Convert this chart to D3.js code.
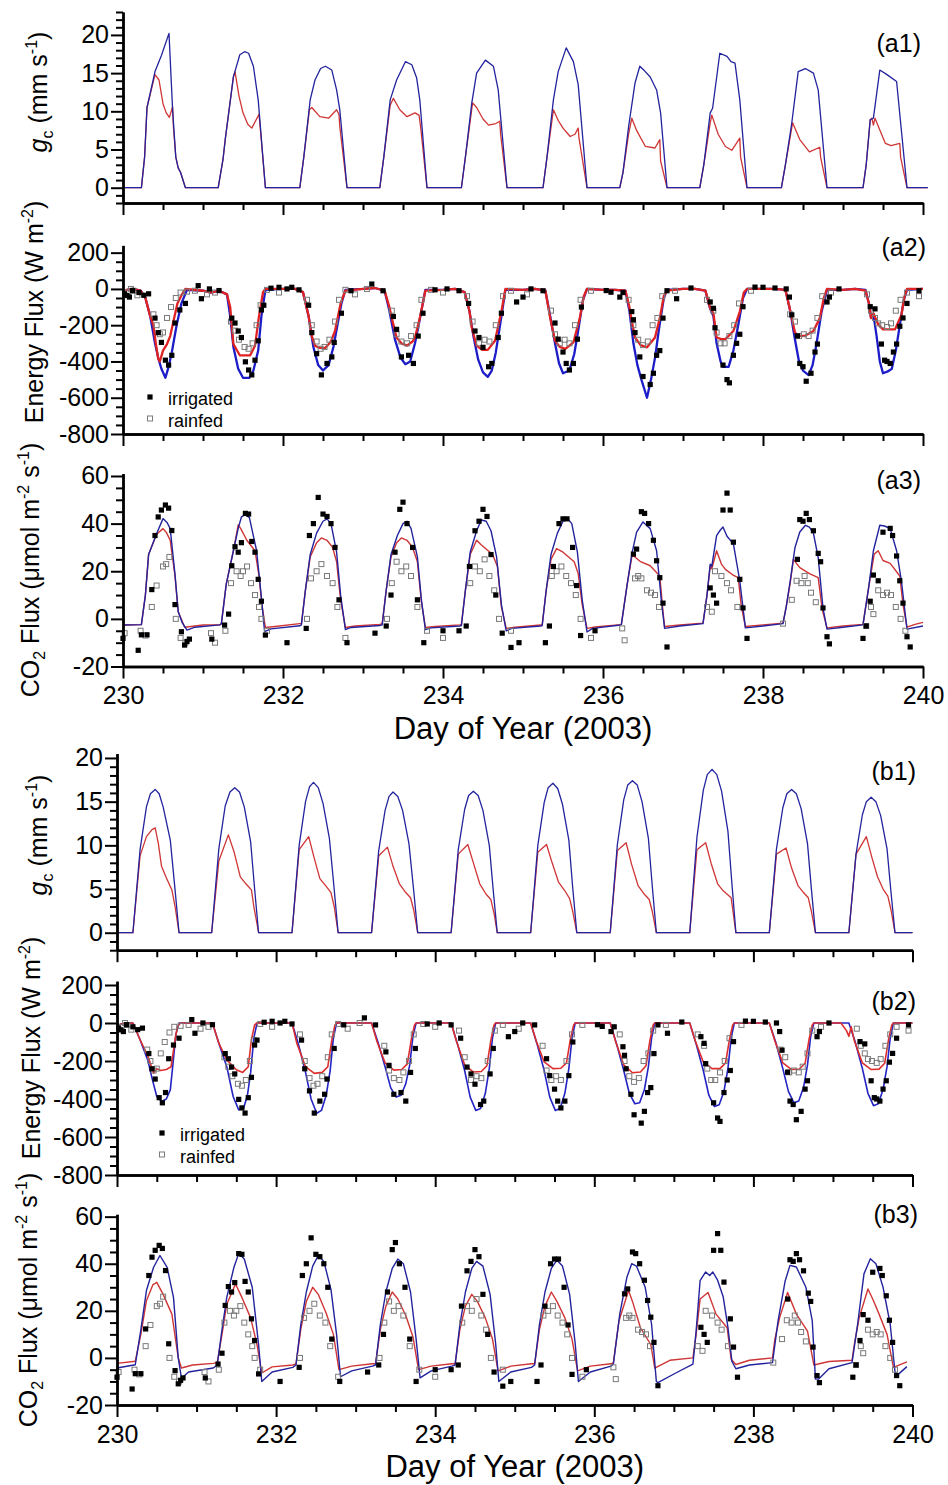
<!DOCTYPE html>
<html>
<head>
<meta charset="utf-8">
<script src="https://cdn.jsdelivr.net/npm/d3@7"></script>
<style>
body { margin: 0; background: #fff; }
svg text { font-family: Arial, "Liberation Sans", sans-serif; fill: #000; }
</style>
</head>
<body>
<script>
var svgWidth = 948;
var svgHeight = 1485;

// x ticks (day of year)
var xTicks = [230, 232, 234, 236, 238, 240];
var gcTicks = [0, 5, 10, 15, 20];
var energyTicks = [-800, -600, -400, -200, 0, 200];
var co2Ticks = [-20, 0, 20, 40, 60];

// ---- (a1) canopy conductance, [day, mm/s]
var gcIrrA = [
  [230.00,0],[230.23,0],[230.27,4],[230.30,10.5],[230.40,15.2],[230.48,17.3],[230.575,20.2],[230.62,10.2],[230.66,4],[230.69,2.6],[230.72,2.0],[230.78,0],
  [231.19,0],[231.25,3.7],[231.28,6.5],[231.38,14.5],[231.46,17.4],[231.52,17.8],[231.57,17.6],[231.63,15.9],[231.69,11.5],[231.78,0],
  [232.21,0],[232.26,4],[232.34,11.5],[232.40,14.1],[232.47,15.6],[232.53,15.9],[232.61,15.4],[232.67,12.8],[232.71,10.2],[232.80,0],
  [233.21,0],[233.26,4],[233.34,11.5],[233.42,14.1],[233.53,16.5],[233.61,16.1],[233.67,14.4],[233.71,11.5],[233.80,0],
  [234.23,0],[234.28,4],[234.36,11.1],[234.42,15],[234.53,16.7],[234.63,15.9],[234.69,12.8],[234.80,0],
  [235.25,0],[235.30,4],[235.38,11.5],[235.44,15.2],[235.54,18.3],[235.63,16.5],[235.69,13.5],[235.80,0],
  [236.21,0],[236.25,2],[236.32,8],[236.40,13.7],[236.46,15.9],[236.52,15.3],[236.59,14.5],[236.67,12.8],[236.72,9.8],[236.80,0],
  [237.21,0],[237.26,3],[237.34,9.8],[237.37,10.4],[237.46,17.6],[237.55,17.2],[237.60,16.5],[237.65,16.3],[237.71,11.5],[237.80,0],
  [238.23,0],[238.28,3],[238.36,8.5],[238.44,15.2],[238.53,15.6],[238.63,15.0],[238.69,12.8],[238.80,0],
  [239.25,0],[239.29,3],[239.34,8.9],[239.38,9.1],[239.46,15.4],[239.55,14.8],[239.67,13.9],[239.80,0],[240.06,0]
];
var gcRainA = [
  [230.00,0],[230.23,0],[230.27,4],[230.30,10.5],[230.40,14.8],[230.45,14.1],[230.50,11],[230.54,9.8],[230.58,9.2],[230.62,10.6],[230.63,8],[230.66,4],[230.69,2.6],[230.72,2.0],[230.78,0],
  [231.19,0],[231.25,3.7],[231.28,6.5],[231.38,14.5],[231.40,15.2],[231.45,12],[231.50,9.8],[231.56,8.3],[231.61,7.8],[231.70,9.6],[231.71,8.5],[231.78,0],
  [232.21,0],[232.26,4],[232.33,10.2],[232.36,10.5],[232.46,9.3],[232.57,9.1],[232.67,10.2],[232.70,9.6],[232.71,8],[232.80,0],
  [233.21,0],[233.26,4],[233.34,10.8],[233.38,11.7],[233.46,10.2],[233.55,9.3],[233.65,9.8],[233.70,9.5],[233.72,8],[233.80,0],
  [234.23,0],[234.28,4],[234.37,11.1],[234.42,10.5],[234.50,9],[234.57,8.2],[234.66,8.4],[234.71,8.7],[234.72,7],[234.80,0],
  [235.25,0],[235.30,4],[235.38,10.2],[235.44,8.8],[235.50,7.8],[235.59,6.7],[235.65,7],[235.69,7.8],[235.70,6.5],[235.80,0],
  [236.21,0],[236.25,2],[236.32,7],[236.36,9.1],[236.42,7.5],[236.53,5.4],[236.65,5.2],[236.71,6.3],[236.72,3.5],[236.80,0],
  [237.21,0],[237.26,3],[237.34,8.5],[237.36,9.5],[237.44,7],[237.53,5.4],[237.61,4.9],[237.71,6.5],[237.72,4],[237.80,0],
  [238.23,0],[238.28,3],[238.37,8.5],[238.46,6.3],[238.58,4.7],[238.71,5.3],[238.72,4],[238.80,0],
  [239.25,0],[239.29,3],[239.34,8.9],[239.36,9.1],[239.38,8.2],[239.40,9.1],[239.53,5.8],[239.60,5.5],[239.71,5.8],[239.72,4],[239.80,0],[240.06,0]
];

// ---- (b1) canopy conductance
var gcIrrB = [
  [230.00,0],[230.20,0],[230.29,9.5],[230.37,14.4],[230.42,15.9],[230.48,16.4],[230.53,15.9],[230.58,14.4],[230.67,10.6],[230.73,4.9],[230.78,0],
  [231.19,0],[231.28,9.6],[231.36,14.5],[231.42,16.1],[231.48,16.6],[231.54,16.1],[231.60,14.4],[231.68,10.4],[231.73,5],[231.78,0],
  [232.20,0],[232.29,10],[232.37,15],[232.42,16.7],[232.47,17.2],[232.53,16.6],[232.59,14.8],[232.67,10.8],[232.73,5],[232.78,0],
  [233.20,0],[233.29,9.4],[233.37,14],[233.42,15.6],[233.47,16.1],[233.53,15.6],[233.59,14],[233.67,10.2],[233.73,4.8],[233.78,0],
  [234.20,0],[234.29,9.5],[234.37,14.1],[234.42,15.7],[234.48,16.2],[234.54,15.7],[234.60,14],[234.68,10],[234.73,4.8],[234.78,0],
  [235.20,0],[235.29,10],[235.37,14.9],[235.42,16.6],[235.48,17.1],[235.54,16.5],[235.60,14.7],[235.68,10.6],[235.73,5],[235.78,0],
  [236.20,0],[236.29,10.1],[236.37,15.2],[236.42,16.9],[236.48,17.4],[236.54,16.9],[236.60,15],[236.68,10.8],[236.73,5.2],[236.78,0],
  [237.20,0],[237.29,10.9],[237.37,16.3],[237.42,18.1],[237.48,18.7],[237.54,18.1],[237.60,16.2],[237.68,11.6],[237.73,5.6],[237.78,0],
  [238.20,0],[238.29,9.6],[238.37,14.3],[238.42,15.9],[238.48,16.4],[238.54,15.9],[238.60,14.2],[238.68,10.2],[238.73,4.9],[238.78,0],
  [239.20,0],[239.29,9],[239.37,13.5],[239.42,15],[239.48,15.5],[239.54,15],[239.60,13.4],[239.68,9.6],[239.73,4.6],[239.78,0],[240.00,0]
];
var gcRainB = [
  [230.00,0],[230.20,0],[230.29,8.8],[230.37,11.0],[230.44,11.8],[230.48,12.0],[230.52,10.2],[230.56,7.6],[230.62,6.3],[230.69,4.9],[230.73,3.0],[230.78,0],
  [231.19,0],[231.28,8.2],[231.40,11.2],[231.47,9.3],[231.55,6.4],[231.62,5.6],[231.69,4.9],[231.72,3],[231.78,0],
  [232.20,0],[232.29,9.5],[232.41,11.0],[232.48,8.5],[232.55,6.2],[232.63,5.3],[232.69,4.6],[232.73,3],[232.78,0],
  [233.20,0],[233.29,8.8],[233.40,9.8],[233.47,7.6],[233.55,5.6],[233.63,4.6],[233.69,4.0],[233.73,2.6],[233.78,0],
  [234.20,0],[234.29,9],[234.41,10.1],[234.48,8],[234.56,5.6],[234.64,4.4],[234.70,3.8],[234.74,2.2],[234.78,0],
  [235.20,0],[235.29,9.2],[235.40,10.1],[235.47,8],[235.55,5.8],[235.63,4.8],[235.69,3.9],[235.73,2.4],[235.78,0],
  [236.20,0],[236.29,9.4],[236.40,10.3],[236.47,7.8],[236.55,5.4],[236.63,4.4],[236.69,3.8],[236.73,2.4],[236.78,0],
  [237.20,0],[237.29,9.5],[237.40,10.3],[237.47,7.9],[237.55,5.6],[237.62,4.8],[237.67,4.4],[237.72,4.0],[237.78,0],
  [238.20,0],[238.29,9],[238.41,9.7],[238.48,7.4],[238.56,5.4],[238.63,4.6],[238.69,4.0],[238.73,2.4],[238.78,0],
  [239.20,0],[239.29,9],[239.42,11.0],[239.49,8.6],[239.56,6.4],[239.63,5],[239.69,4.2],[239.73,2.6],[239.78,0],[240.00,0]
];

// ---- (a2) energy flux, W m-2
var energyIrrA = [
  [230.00,-20],[230.05,-5],[230.12,0],[230.22,-10],[230.28,-50],[230.34,-150],[230.40,-300],[230.44,-380],[230.48,-440],[230.53,-490],[230.57,-430],[230.61,-350],[230.67,-200],[230.73,-80],[230.80,-5],
  [231.00,-10],[231.10,-20],[231.20,-10],[231.30,-30],[231.34,-150],[231.38,-320],[231.44,-440],[231.50,-490],[231.58,-490],[231.63,-450],[231.69,-340],[231.73,-150],[231.78,-5],
  [232.00,0],[232.15,0],[232.25,-18],[232.32,-150],[232.38,-320],[232.44,-420],[232.50,-450],[232.57,-420],[232.63,-320],[232.68,-200],[232.73,-80],[232.78,-5],
  [233.00,0],[233.15,5],[233.27,-10],[233.33,-120],[233.40,-280],[233.47,-380],[233.53,-415],[233.59,-400],[233.65,-300],[233.70,-190],[233.78,-5],
  [234.00,-5],[234.15,0],[234.27,-18],[234.33,-120],[234.38,-260],[234.44,-390],[234.50,-460],[234.56,-485],[234.61,-450],[234.66,-350],[234.72,-180],[234.78,-5],
  [235.00,-5],[235.15,0],[235.28,-10],[235.34,-150],[235.40,-300],[235.45,-410],[235.50,-465],[235.58,-450],[235.64,-360],[235.69,-230],[235.75,-60],[235.80,0],
  [236.00,-5],[236.15,-5],[236.28,-10],[236.33,-120],[236.38,-300],[236.43,-420],[236.48,-500],[236.55,-600],[236.60,-500],[236.65,-380],[236.70,-220],[236.76,-50],[236.80,-5],
  [237.00,0],[237.15,0],[237.28,-10],[237.34,-110],[237.38,-150],[237.42,-300],[237.47,-400],[237.50,-430],[237.57,-430],[237.63,-340],[237.69,-200],[237.75,-50],[237.80,0],
  [238.00,0],[238.15,0],[238.28,-5],[238.34,-120],[238.40,-280],[238.45,-400],[238.50,-450],[238.57,-475],[238.62,-420],[238.67,-300],[238.73,-130],[238.80,-5],
  [239.00,-5],[239.15,0],[239.28,-5],[239.33,-90],[239.35,-160],[239.38,-140],[239.42,-260],[239.46,-400],[239.50,-465],[239.56,-455],[239.61,-440],[239.66,-340],[239.71,-200],[239.76,-60],[239.80,-5],[240.00,0]
];
var energyRainA = [
  [230.00,-20],[230.05,-5],[230.12,0],[230.22,-10],[230.28,-50],[230.34,-150],[230.38,-200],[230.41,-300],[230.44,-384],[230.46,-400],[230.50,-340],[230.55,-304],[230.59,-260],[230.63,-179],[230.68,-80],[230.73,-36],[230.78,0],
  [231.00,-10],[231.10,-20],[231.20,-10],[231.30,-30],[231.34,-100],[231.38,-304],[231.46,-366],[231.59,-366],[231.65,-313],[231.70,-150],[231.75,-18],[231.78,0],
  [232.00,0],[232.15,0],[232.25,-18],[232.32,-150],[232.36,-260],[232.40,-313],[232.46,-325],[232.53,-325],[232.60,-290],[232.65,-232],[232.72,-80],[232.78,-9],
  [233.00,0],[233.15,5],[233.27,-10],[233.33,-100],[233.36,-161],[233.42,-268],[233.48,-300],[233.55,-313],[233.62,-290],[233.65,-268],[233.71,-161],[233.78,-9],
  [234.00,-5],[234.15,0],[234.27,-18],[234.33,-120],[234.36,-214],[234.42,-313],[234.49,-336],[234.56,-336],[234.65,-286],[234.73,-125],[234.78,0],
  [235.00,-5],[235.15,0],[235.28,-10],[235.34,-161],[235.40,-286],[235.46,-320],[235.53,-331],[235.63,-295],[235.71,-161],[235.76,-40],[235.80,0],
  [236.00,-5],[236.15,-5],[236.28,-9],[236.33,-100],[236.36,-179],[236.40,-268],[236.47,-310],[236.55,-322],[236.65,-268],[236.71,-161],[236.76,-40],[236.80,-9],
  [237.00,0],[237.15,0],[237.28,-9],[237.34,-107],[237.38,-134],[237.42,-268],[237.48,-277],[237.53,-277],[237.63,-232],[237.71,-125],[237.76,-20],[237.80,0],
  [238.00,0],[238.15,0],[238.28,-5],[238.33,-100],[238.36,-161],[238.40,-241],[238.45,-259],[238.52,-259],[238.63,-232],[238.71,-161],[238.76,-50],[238.80,0],
  [239.00,-5],[239.15,0],[239.28,-9],[239.33,-90],[239.35,-161],[239.38,-134],[239.44,-196],[239.50,-223],[239.65,-223],[239.73,-143],[239.77,-40],[239.80,0],[240.00,0]
];

// ---- (b2) energy flux
var energyIrrB = [
  [230.00,-20],[230.05,-5],[230.12,0],[230.20,0],[230.29,-88],[230.39,-200],[230.44,-290],[230.50,-387],[230.56,-413],[230.62,-400],[230.67,-352],[230.70,-230],[230.74,-60],[230.78,0],
  [231.20,0],[231.28,-106],[231.38,-230],[231.46,-387],[231.53,-457],[231.59,-450],[231.64,-380],[231.68,-260],[231.72,-80],[231.76,0],
  [232.20,0],[232.28,-110],[232.37,-260],[232.44,-400],[232.51,-475],[232.57,-460],[232.63,-380],[232.68,-250],[232.72,-80],[232.76,0],
  [233.20,0],[233.28,-100],[233.37,-230],[233.44,-340],[233.51,-390],[233.57,-380],[233.63,-320],[233.68,-220],[233.72,-70],[233.76,0],
  [234.20,0],[234.28,-110],[234.37,-250],[234.44,-390],[234.51,-460],[234.57,-450],[234.63,-370],[234.68,-240],[234.72,-80],[234.76,0],
  [235.20,0],[235.28,-110],[235.37,-250],[235.44,-390],[235.51,-460],[235.57,-450],[235.63,-370],[235.68,-240],[235.72,-80],[235.76,0],
  [236.20,0],[236.28,-110],[236.37,-250],[236.44,-370],[236.51,-425],[236.57,-420],[236.63,-350],[236.68,-230],[236.72,-80],[236.76,0],
  [237.20,0],[237.28,-110],[237.37,-250],[237.44,-380],[237.51,-440],[237.57,-430],[237.63,-360],[237.68,-240],[237.72,-80],[237.76,0],
  [238.20,0],[238.28,-100],[238.37,-240],[238.44,-360],[238.51,-420],[238.57,-410],[238.63,-340],[238.68,-220],[238.72,-70],[238.76,0],
  [239.20,0],[239.28,-100],[239.37,-240],[239.44,-370],[239.51,-435],[239.57,-425],[239.63,-350],[239.68,-230],[239.72,-80],[239.76,0],[240.00,0]
];
var energyRainB = [
  [230.00,-20],[230.05,-5],[230.12,0],[230.20,0],[230.29,-88],[230.39,-176],[230.46,-264],[230.50,-240],[230.55,-250],[230.62,-245],[230.68,-230],[230.73,-88],[230.76,-18],[230.80,0],
  [231.20,0],[231.28,-106],[231.38,-194],[231.50,-246],[231.58,-260],[231.65,-230],[231.69,-88],[231.73,-10],[231.76,0],
  [232.20,0],[232.26,-106],[232.37,-230],[232.48,-265],[232.58,-260],[232.65,-230],[232.70,-90],[232.74,-10],[232.76,0],
  [233.20,0],[233.27,-100],[233.37,-210],[233.48,-248],[233.58,-245],[233.65,-215],[233.70,-85],[233.74,-10],[233.76,0],
  [234.20,0],[234.27,-100],[234.37,-220],[234.48,-258],[234.58,-255],[234.65,-225],[234.70,-90],[234.74,-10],[234.76,0],
  [235.20,0],[235.27,-95],[235.37,-205],[235.48,-240],[235.58,-238],[235.65,-210],[235.70,-85],[235.74,-10],[235.76,0],
  [236.20,0],[236.27,-100],[236.37,-220],[236.48,-262],[236.58,-258],[236.65,-225],[236.70,-90],[236.74,-10],[236.76,0],
  [237.20,0],[237.27,-95],[237.37,-205],[237.48,-240],[237.58,-240],[237.65,-210],[237.70,-85],[237.74,-10],[237.76,0],
  [238.20,0],[238.27,-95],[238.37,-210],[238.48,-245],[238.58,-242],[238.65,-212],[238.70,-85],[238.74,-10],[238.76,0],
  [239.10,0],[239.17,-40],[239.20,-70],[239.23,-20],[239.27,-95],[239.37,-210],[239.48,-245],[239.58,-243],[239.65,-212],[239.70,-85],[239.74,-10],[239.76,0],[240.00,0]
];

// ---- (a3) CO2 flux, umol m-2 s-1
var co2IrrA = [
  [230.00,-2.6],[230.23,-2.4],[230.28,10],[230.32,27],[230.42,35.7],[230.50,42.1],[230.55,40.5],[230.59,37.9],[230.65,18.7],[230.69,3.1],[230.74,-1.6],[230.80,-4.7],[230.90,-3.5],[231.21,-2.5],
  [231.23,-2],[231.29,14.5],[231.38,28.6],[231.44,38],[231.48,42.8],[231.53,43.8],[231.58,42.5],[231.67,28.6],[231.73,9],[231.77,-5.4],[231.85,-4.2],[232.21,-2.9],
  [232.23,-2.5],[232.28,12],[232.34,27],[232.42,36],[232.50,41],[232.55,42],[232.60,40],[232.67,28],[232.72,10],[232.78,-4.5],[232.85,-3.6],[233.21,-2.8],
  [233.24,-2.5],[233.29,12],[233.35,27],[233.43,35],[233.50,40],[233.55,41],[233.60,38],[233.68,26],[233.73,8],[233.78,-4.5],[233.85,-3.8],[234.21,-3],
  [234.23,-2.8],[234.28,12],[234.34,28],[234.42,37],[234.48,41.5],[234.54,41],[234.60,37],[234.67,26],[234.73,6],[234.79,-5],[234.86,-4],[235.22,-3],
  [235.24,-2.8],[235.29,12],[235.35,27],[235.43,36],[235.50,41],[235.56,42],[235.61,40],[235.68,28],[235.74,8],[235.80,-5.5],[235.87,-4],[236.22,-2.6],
  [236.23,-2.3],[236.30,14],[236.36,27.2],[236.42,36.4],[236.50,40.7],[236.59,37.9],[236.67,28.6],[236.73,7.4],[236.77,-4],[236.96,-3],[237.25,-2],
  [237.30,10],[237.34,23],[237.36,22],[237.42,35],[237.46,37],[237.50,38.6],[237.52,37],[237.55,34.7],[237.63,31.5],[237.71,15.9],[237.78,-3.8],[238.00,-3],[238.25,-2],
  [238.29,5],[238.34,15.9],[238.40,30],[238.46,36.5],[238.53,39.3],[238.58,38.5],[238.63,36],[238.69,25.7],[238.75,4.5],[238.80,-4.3],[239.00,-3.5],[239.25,-2.5],
  [239.32,13],[239.38,28.6],[239.46,39.3],[239.52,39],[239.59,37.9],[239.67,28.6],[239.73,15.9],[239.80,-4.3],[240.00,-3]
];
var co2RainA = [
  [230.00,-2.6],[230.23,-2.4],[230.28,10],[230.32,27],[230.42,35.5],[230.50,37.9],[230.54,36.4],[230.59,33],[230.65,18],[230.69,3],[230.74,-1],[230.77,-3.5],[230.85,-3.2],[231.00,-2.6],[231.21,-2.5],
  [231.23,-2],[231.29,14.5],[231.38,28.6],[231.44,39.5],[231.47,38],[231.55,32.9],[231.65,28.6],[231.70,18],[231.74,5],[231.78,-3.6],[231.90,-3.2],[232.21,-2],
  [232.23,-2],[232.28,12],[232.34,26],[232.42,32],[232.48,34],[232.55,33],[232.62,30],[232.67,24],[232.72,8],[232.78,-3.6],[232.90,-3],[233.21,-2.3],
  [233.24,-2],[233.29,12],[233.35,26],[233.42,32],[233.48,34],[233.55,33],[233.62,30],[233.68,24],[233.73,7],[233.78,-3.6],[233.90,-3.2],[234.21,-2.5],
  [234.23,-2.3],[234.28,12],[234.34,27],[234.42,33],[234.48,31],[234.55,29],[234.62,27],[234.68,22],[234.73,5],[234.79,-4],[234.90,-3.5],[235.22,-2.6],
  [235.24,-2.4],[235.29,12],[235.35,25],[235.42,29.5],[235.50,28],[235.57,26],[235.64,24],[235.69,19],[235.74,6],[235.80,-4],[235.90,-3.4],[236.22,-2.4],
  [236.23,-2.2],[236.30,14],[236.36,26],[236.38,26.5],[236.47,24],[236.59,22.3],[236.71,18],[236.75,3],[236.77,-3.2],[236.96,-2.6],[237.25,-1.8],
  [237.30,10],[237.34,22],[237.36,21],[237.42,28.6],[237.48,23],[237.53,20.8],[237.62,18.5],[237.69,17.3],[237.73,5],[237.78,-3.2],[238.00,-2.5],[238.25,-1.8],
  [238.29,5],[238.34,15],[238.38,25],[238.46,21.5],[238.58,19],[238.69,17.3],[238.74,4],[238.80,-3.8],[239.00,-3],[239.25,-2.3],
  [239.32,13],[239.39,27.2],[239.44,28.6],[239.50,24.5],[239.59,23.3],[239.71,18],[239.75,6],[239.80,-3.5],[239.90,-2.3],[240.00,-1.5]
];

// ---- (b3) CO2 flux
var co2IrrB = [
  [230.00,-4.3],[230.23,-2.9],[230.30,12],[230.37,28.6],[230.46,38.5],[230.54,43.5],[230.63,38.5],[230.71,25.7],[230.77,0],[230.81,-8.6],[230.90,-6],[231.21,-4.3],
  [231.26,-3],[231.32,12],[231.38,25.7],[231.47,38.5],[231.53,44.3],[231.60,42],[231.70,30],[231.78,5.6],[231.82,-10],[231.95,-6],[232.21,-4],
  [232.25,-3],[232.31,14],[232.38,28],[232.46,39],[232.53,43.5],[232.60,41],[232.69,29],[232.76,10],[232.81,-8],[232.95,-5.5],[233.21,-3.5],
  [233.25,-3],[233.31,14],[233.38,28],[233.46,38],[233.53,42],[233.60,40],[233.69,28],[233.76,8],[233.81,-8.5],[233.95,-5.5],[234.21,-3.5],
  [234.25,-3],[234.31,14],[234.38,28],[234.46,38],[234.52,41],[234.60,39],[234.69,27],[234.76,6],[234.80,-10],[234.95,-6],[235.21,-4],
  [235.25,-3],[235.31,14],[235.38,28],[235.46,38],[235.53,41.5],[235.60,39],[235.69,27],[235.76,6],[235.80,-10],[235.95,-6],[236.21,-3.5],
  [236.24,-2.6],[236.32,18.6],[236.41,34.3],[236.47,40],[236.53,39],[236.64,30],[236.72,14.3],[236.78,-10],[236.80,-10.5],[237.03,-6.3],[237.24,-2.6],
  [237.28,11.4],[237.33,32.8],[237.40,36.5],[237.45,35],[237.49,36.5],[237.55,33],[237.62,26],[237.68,13],[237.73,-1.5],[237.78,-4.6],[237.95,-3],[238.24,-2],
  [238.31,15.7],[238.40,32.8],[238.46,39.3],[238.54,38.6],[238.66,30],[238.74,15.7],[238.78,-9],[238.82,-9],[238.95,-4.6],[239.24,-2],
  [239.31,14.3],[239.39,35.7],[239.47,42.1],[239.54,40],[239.63,30],[239.72,14.3],[239.78,-6],[239.82,-7],[239.93,-3.7]
];
var co2RainB = [
  [230.00,-2.3],[230.23,-1.4],[230.30,10],[230.37,24.3],[230.45,31],[230.50,32.1],[230.58,27],[230.69,18.6],[230.77,0],[230.81,-4.3],[230.95,-3],[231.21,-2.3],
  [231.26,-2],[231.32,10],[231.38,22.8],[231.49,31.4],[231.57,25.7],[231.68,17],[231.76,5.6],[231.82,-6.4],[231.95,-3.8],[232.21,-3],
  [232.25,-2.5],[232.31,12],[232.38,24],[232.46,30],[232.53,27],[232.63,19],[232.72,10],[232.79,-5],[232.95,-3.5],[233.21,-2.5],
  [233.25,-2.5],[233.31,12],[233.38,22],[233.46,28],[233.53,25],[233.63,18],[233.72,9],[233.79,-5],[233.95,-3.5],[234.21,-2.5],
  [234.25,-2.5],[234.31,12],[234.38,22],[234.46,27],[234.53,24],[234.63,17],[234.72,8],[234.79,-5.5],[234.95,-3.5],[235.21,-2.5],
  [235.25,-2.5],[235.31,12],[235.38,22],[235.46,28],[235.53,24],[235.63,17],[235.72,8],[235.79,-5.5],[235.95,-3.5],[236.21,-2.5],
  [236.24,-2],[236.31,15.7],[236.43,28.6],[236.48,24],[236.58,12.8],[236.71,5.7],[236.76,-4.3],[236.95,-1],[237.24,0],
  [237.28,10],[237.33,25],[237.43,27.8],[237.53,18.6],[237.67,12.8],[237.72,-0.5],[237.78,-2.8],[237.95,-1],[238.24,0],
  [238.27,8],[238.33,17.1],[238.43,27.8],[238.54,18.6],[238.68,11.4],[238.76,-3],[238.95,-1.5],[239.24,-1],
  [239.27,6],[239.33,17.1],[239.44,29.3],[239.50,25],[239.58,18.6],[239.68,10],[239.76,-4],[239.93,-1.7]
];

// ---- measured points (same in a and b panels)
var energyIrrObs = [
  [230.02,-27],[230.05,-36],[230.08,-45],[230.12,-9],[230.20,-20],[230.26,-35],[230.32,-27],[230.40,-161],[230.44,-241],[230.48,-295],[230.53,-393],[230.57,-420],[230.61,-366],[230.65,-188],[230.71,-116],[230.78,-80],[230.94,18],[230.98,-54],[231.08,0],[231.20,-9],
  [231.36,-161],[231.40,-188],[231.44,-232],[231.48,-268],[231.53,-402],[231.57,-447],[231.61,-474],[231.65,-393],[231.69,-286],[231.73,-116],[231.76,-90],[231.85,4],[231.95,9],[232.05,0],
  [232.11,9],[232.20,-5],[232.32,-90],[232.36,-241],[232.42,-357],[232.48,-474],[232.55,-411],[232.61,-375],[232.64,-295],[232.73,-134],[232.85,-10],[233.11,27],
  [233.25,-10],[233.38,-152],[233.42,-223],[233.48,-375],[233.57,-366],[233.63,-411],[233.69,-260],[233.75,-134],[233.90,-5],[234.05,0],
  [234.20,-10],[234.32,-80],[234.40,-232],[234.45,-268],[234.50,-322],[234.57,-429],[234.61,-411],[234.69,-268],[234.73,-134],[234.92,-72],[235.00,-45],
  [235.10,0],[235.25,-10],[235.40,-188],[235.44,-277],[235.50,-348],[235.54,-411],[235.58,-447],[235.63,-411],[235.68,-277],[235.73,-100],
  [236.04,-9],[236.10,-18],[236.21,-45],[236.25,-20],[236.36,-125],[236.38,-170],[236.40,-241],[236.46,-375],[236.50,-483],[236.59,-527],[236.63,-465],[236.67,-366],[236.71,-340],[236.75,-161],[236.80,-10],[236.92,-54],
  [237.10,5],[237.34,-72],[237.38,-107],[237.40,-214],[237.50,-420],[237.55,-500],[237.58,-518],[237.63,-366],[237.67,-300],[237.71,-250],[237.75,-98],[237.90,10],
  [238.00,9],[238.15,5],[238.29,0],[238.33,-45],[238.36,-143],[238.43,-259],[238.46,-411],[238.50,-429],[238.54,-509],[238.60,-465],[238.65,-348],[238.68,-304],[238.80,-72],[238.83,-45],[238.95,0],
  [239.34,-98],[239.40,-110],[239.48,-304],[239.52,-393],[239.55,-400],[239.59,-411],[239.63,-348],[239.67,-304],[239.71,-206],[239.75,-160],[239.80,-80],[239.95,-10]
];
var energyRainObs = [
  [230.06,-20],[230.10,0],[230.13,-10],[230.18,-35],[230.38,-140],[230.42,-200],[230.46,-250],[230.50,-240],[230.55,-160],[230.60,-100],[230.66,-50],[230.72,-20],[230.80,-15],[230.90,-10],[231.05,-30],[231.15,-20],
  [231.35,-180],[231.40,-230],[231.45,-280],[231.52,-320],[231.57,-330],[231.62,-300],[231.67,-200],[231.72,-90],[231.80,-5],[231.95,-20],
  [232.30,-60],[232.36,-200],[232.42,-290],[232.47,-330],[232.52,-320],[232.58,-280],[232.65,-180],[232.70,-60],[232.78,-5],[232.90,-30],
  [233.05,0],[233.36,-120],[233.42,-250],[233.48,-290],[233.55,-300],[233.60,-260],[233.67,-200],[233.73,-60],[233.85,-5],[234.00,-20],
  [234.30,-40],[234.37,-180],[234.45,-300],[234.52,-280],[234.58,-290],[234.66,-200],[234.75,-40],[234.85,-10],[235.05,-30],
  [235.35,-120],[235.40,-250],[235.46,-300],[235.52,-280],[235.58,-300],[235.65,-200],[235.72,-60],[235.85,-10],
  [236.32,-60],[236.38,-200],[236.44,-280],[236.50,-310],[236.56,-290],[236.62,-200],[236.68,-160],[236.74,-40],[236.90,-10],
  [237.30,-60],[237.38,-120],[237.42,-240],[237.47,-300],[237.52,-300],[237.58,-260],[237.64,-200],[237.70,-80],[237.85,-10],
  [238.34,-140],[238.40,-180],[238.45,-260],[238.51,-250],[238.57,-260],[238.62,-230],[238.68,-160],[238.74,-40],[238.85,-20],
  [239.30,-30],[239.35,-120],[239.40,-160],[239.44,-190],[239.49,-200],[239.55,-210],[239.60,-190],[239.66,-120],[239.72,-60],[239.80,-20],[239.95,-40]
];
var co2IrrObs = [
  [230.00,-8.2],[230.19,-13.2],[230.23,-6.7],[230.30,-6.7],[230.36,12.3],[230.40,35],[230.44,42.8],[230.48,45.7],[230.53,47.8],[230.57,46.5],[230.61,37.1],[230.65,6],[230.73,-5.4],[230.77,-11],[230.80,-9.5],[230.83,-8.5],[231.11,-8.5],
  [231.27,-2.6],[231.32,2],[231.36,22.3],[231.40,30.3],[231.44,28],[231.48,32],[231.53,44.3],[231.57,44],[231.61,32.5],[231.65,28],[231.69,16.6],[231.73,7.4],[231.78,-6.8],
  [232.05,-10],[232.29,-4],[232.33,35],[232.38,40],[232.44,51],[232.50,44],[232.55,43],[232.60,40],[232.65,30],[232.70,8],[232.80,-10],
  [233.15,-6],[233.29,-3],[233.35,10],[233.40,28],[233.46,46],[233.50,49],[233.55,40],[233.62,30],[233.68,8],[233.76,-10],
  [234.00,-5],[234.20,-5],[234.29,-3],[234.33,22],[234.40,37],[234.45,41],[234.50,46],[234.55,43],[234.60,27],[234.66,10],[234.74,-6],[234.85,-12],
  [234.95,-10],[235.28,-10],[235.33,-3],[235.38,22],[235.45,40],[235.50,42],[235.55,42],[235.62,30],[235.67,14],[235.72,-7],[235.90,-5],
  [236.38,27.2],[236.42,29.3],[236.48,45],[236.52,44.3],[236.57,40],[236.63,33],[236.67,24.4],[236.71,17.3],[236.75,6.6],[236.80,-11.8],
  [237.34,13],[237.38,10],[237.42,6.6],[237.50,45.7],[237.55,52.8],[237.59,45.7],[237.63,32.2],[237.71,16.6],[237.75,4.6],[237.80,-8.2],
  [238.43,25],[238.46,41.7],[238.50,41],[238.54,44.3],[238.58,41.7],[238.63,37],[238.69,27.5],[238.72,24],[238.75,4.6],[238.80,-7.5],[238.83,-10.5],
  [239.25,-8.2],[239.29,-3],[239.34,7.4],[239.38,18.4],[239.44,16],[239.50,36.4],[239.59,38],[239.62,35],[239.67,26.4],[239.71,16],[239.75,6.6],[239.80,-7.5],[239.84,-11.8]
];
var co2RainObs = [
  [230.02,-6],[230.22,-5],[230.28,-7],[230.36,5],[230.42,14],[230.50,22],[230.54,23],[230.58,26],[230.66,0],[230.72,-8],[230.78,-10],[231.10,-6],[231.15,-10],
  [231.28,-5],[231.35,15],[231.42,20],[231.47,18],[231.50,20],[231.55,22],[231.60,15],[231.65,10],[231.70,5],[231.73,0],[231.80,-5],
  [232.30,0],[232.35,17],[232.42,20],[232.48,23],[232.55,18],[232.62,15],[232.68,5],[232.78,-8],
  [233.30,0],[233.36,15],[233.42,24],[233.48,20],[233.54,22],[233.60,18],[233.68,5],[233.80,-5],
  [234.00,-8],[234.34,15],[234.40,22],[234.46,20],[234.52,25],[234.58,18],[234.64,12],[234.70,0],[234.85,-5],
  [235.36,18],[235.42,20],[235.48,22],[235.54,18],[235.60,15],[235.66,10],[235.72,0],[235.85,-8],
  [236.24,-4],[236.27,-9],[236.40,17],[236.44,18],[236.48,17],[236.55,12],[236.60,11],[236.65,10],[236.70,5],
  [237.30,5],[237.36,3],[237.40,20],[237.48,18],[237.55,15],[237.60,12],[237.68,5],
  [238.25,-2],[238.36,8],[238.42,16],[238.48,15],[238.52,18],[238.56,15],[238.60,11],[238.66,7],
  [239.29,-3],[239.35,5],[239.38,2],[239.44,12],[239.50,10],[239.55,11],[239.60,10],[239.66,5],[239.72,0],[239.78,-5]
];

var svg = d3.select("body").append("svg")
  .attr("width", svgWidth)
  .attr("height", svgHeight);

var BLUE = "#23239e", RED = "#cf3535";

var panels = [
  {label:"(a1)", left:123, right:923, top:12, bottom:203, dom:[-2,23], major:gcTicks, minorStep:1,
   blue:gcIrrA, red:gcRainA, lw:1.3, redTop:false, lx:921, ly:52},
  {label:"(a2)", left:123, right:923, top:245.4, bottom:434, dom:[-800,240], major:energyTicks, minorStep:50,
   blue:energyIrrA, red:energyRainA, lw:2.3, redTop:true, obs:[energyIrrObs, energyRainObs], lx:926, ly:256,
   legend:{x:150, y:397}, blueC:"#1c1cc8", redC:"#e02222"},
  {label:"(a3)", left:123, right:923, top:473.6, bottom:666.5, dom:[-20,61], major:co2Ticks, minorStep:5,
   blue:co2IrrA, red:co2RainA, lw:1.4, redTop:false, obs:[co2IrrObs, co2RainObs], lx:921, ly:489, xlab:true},
  {label:"(b1)", left:117, right:912.5, top:753.6, bottom:950.2, dom:[-2,20.5], major:gcTicks, minorStep:1,
   blue:gcIrrB, red:gcRainB, lw:1.3, redTop:false, lx:916, ly:780},
  {label:"(b2)", left:117, right:912.5, top:981.2, bottom:1175, dom:[-800,220], major:energyTicks, minorStep:50,
   blue:energyIrrB, red:energyRainB, lw:1.6, redTop:true, obs:[energyIrrObs, energyRainObs], lx:916, ly:1010,
   legend:{x:162, y:1133}, blueC:"#2424c4", redC:"#dd2e2e"},
  {label:"(b3)", left:117, right:912.5, top:1214.3, bottom:1405, dom:[-20,61], major:co2Ticks, minorStep:5,
   blue:co2IrrB, red:co2RainB, lw:1.4, redTop:false, obs:[co2IrrObs, co2RainObs], lx:918, ly:1223, xlab:true}
];

function styleAxis(g) {
  g.attr("font-family", "Arial, 'Liberation Sans', sans-serif");
  g.selectAll("path.domain").attr("stroke", "#000").attr("stroke-width", 2.4);
  g.selectAll(".tick line").attr("stroke", "#000").attr("stroke-width", 2);
}

function isMajor(v, major) {
  return major.some(function(m) { return Math.abs(m - v) < 1e-6; });
}

// plain hyphen for negative labels, as in the original figure
var plain = function(d) { return String(d); };

panels.forEach(function(p) {
  var x = d3.scaleLinear().domain([230, 240]).range([p.left, p.right]);
  var y = d3.scaleLinear().domain(p.dom).range([p.bottom, p.top]);
  var g = svg.append("g");

  // lines
  var line = d3.line().x(d => x(d[0])).y(d => y(d[1]));
  var bc = p.blueC || BLUE, rc = p.redC || RED;
  var order = p.redTop ? [[p.blue, bc], [p.red, rc]] : [[p.red, rc], [p.blue, bc]];
  order.forEach(function(o) {
    g.append("path").datum(o[0])
      .attr("d", line)
      .attr("fill", "none")
      .attr("stroke", o[1])
      .attr("stroke-width", p.lw)
      .attr("stroke-linejoin", "round");
  });

  // observations
  if (p.obs) {
    g.selectAll("rect.rain").data(p.obs[1]).enter().append("rect")
      .attr("class", "rain")
      .attr("x", d => x(d[0]) - 2.5).attr("y", d => y(d[1]) - 2.5)
      .attr("width", 5).attr("height", 5)
      .attr("fill", "none").attr("stroke", "#7a7a7a").attr("stroke-width", 1);
    g.selectAll("rect.irr").data(p.obs[0]).enter().append("rect")
      .attr("class", "irr")
      .attr("x", d => x(d[0]) - 2.6).attr("y", d => y(d[1]) - 2.6)
      .attr("width", 5.2).attr("height", 5.2)
      .attr("fill", "#000");
  }

  // y axis
  var minor = d3.range(Math.ceil(p.dom[0] / p.minorStep) * p.minorStep, p.dom[1] + 1e-9, p.minorStep)
    .filter(v => !isMajor(v, p.major));
  g.append("g").attr("transform", `translate(${p.left},0)`)
    .call(d3.axisLeft(y).tickValues(minor).tickSize(7).tickFormat("").tickSizeOuter(0))
    .call(styleAxis);
  var ya = g.append("g").attr("transform", `translate(${p.left},0)`)
    .call(d3.axisLeft(y).tickValues(p.major).tickSize(12).tickPadding(2).tickSizeOuter(0).tickFormat(plain))
    .call(styleAxis);
  ya.selectAll(".tick text").attr("font-size", 25).attr("fill", "#000");

  // x axis
  var xminor = d3.range(230, 240.001, 0.5).filter(v => !isMajor(v, xTicks));
  g.append("g").attr("transform", `translate(0,${p.bottom})`)
    .call(d3.axisBottom(x).tickValues(xminor).tickSize(7).tickFormat("").tickSizeOuter(0))
    .call(styleAxis);
  var xa = g.append("g").attr("transform", `translate(0,${p.bottom})`)
    .call(d3.axisBottom(x).tickValues(xTicks).tickSize(12).tickPadding(8).tickSizeOuter(0)
      .tickFormat(p.xlab ? plain : ""))
    .call(styleAxis);
  xa.selectAll(".tick text").attr("font-size", 25).attr("fill", "#000");

  // panel label
  svg.append("text").attr("x", p.lx).attr("y", p.ly)
    .attr("text-anchor", "end").attr("font-size", 25).text(p.label);

  if (p.xlab) {
    svg.append("text").attr("x", (p.left + p.right) / 2).attr("y", p.bottom + 72)
      .attr("text-anchor", "middle").attr("font-size", 31).text("Day of Year (2003)");
  }

  if (p.legend) {
    var lg = svg.append("g");
    lg.append("rect").attr("x", p.legend.x - 2.6).attr("y", p.legend.y - 2.6)
      .attr("width", 5.2).attr("height", 5.2).attr("fill", "#000");
    lg.append("text").attr("x", p.legend.x + 18).attr("y", p.legend.y + 8)
      .attr("font-size", 18).text("irrigated");
    lg.append("rect").attr("x", p.legend.x - 2.5).attr("y", p.legend.y + 19)
      .attr("width", 5).attr("height", 5).attr("fill", "none")
      .attr("stroke", "#7a7a7a").attr("stroke-width", 1);
    lg.append("text").attr("x", p.legend.x + 18).attr("y", p.legend.y + 30)
      .attr("font-size", 18).text("rainfed");
  }
});

// y axis titles
function gcTitle(xp, yp) {
  var t = svg.append("text").attr("transform", `translate(${xp},${yp}) rotate(-90)`)
    .attr("text-anchor", "middle").attr("font-size", 25);
  t.append("tspan").attr("font-style", "italic").text("g");
  t.append("tspan").attr("font-size", 16).attr("dy", 6).text("c");
  t.append("tspan").attr("dy", -6).text(" (mm s");
  t.append("tspan").attr("font-size", 16).attr("dy", -10).text("-1");
  t.append("tspan").attr("dy", 10).text(")");
}
function energyTitle(xp, yp) {
  var t = svg.append("text").attr("transform", `translate(${xp},${yp}) rotate(-90)`)
    .attr("text-anchor", "middle").attr("font-size", 25);
  t.append("tspan").text("Energy Flux (W m");
  t.append("tspan").attr("font-size", 16).attr("dy", -10).text("-2");
  t.append("tspan").attr("dy", 10).text(")");
}
function co2Title(xp, yp) {
  var t = svg.append("text").attr("transform", `translate(${xp},${yp}) rotate(-90)`)
    .attr("text-anchor", "middle").attr("font-size", 25);
  t.append("tspan").text("CO");
  t.append("tspan").attr("font-size", 16).attr("dy", 6).text("2");
  t.append("tspan").attr("dy", -6).text(" Flux (\u03bcmol m");
  t.append("tspan").attr("font-size", 16).attr("dy", -10).text("-2");
  t.append("tspan").attr("dy", 10).text(" s");
  t.append("tspan").attr("font-size", 16).attr("dy", -10).text("-1");
  t.append("tspan").attr("dy", 10).text(")");
}
gcTitle(47, 92);
energyTitle(43, 312);
co2Title(39, 570);
gcTitle(47, 835);
energyTitle(40, 1048);
co2Title(37, 1300);
</script>
</body>
</html>
